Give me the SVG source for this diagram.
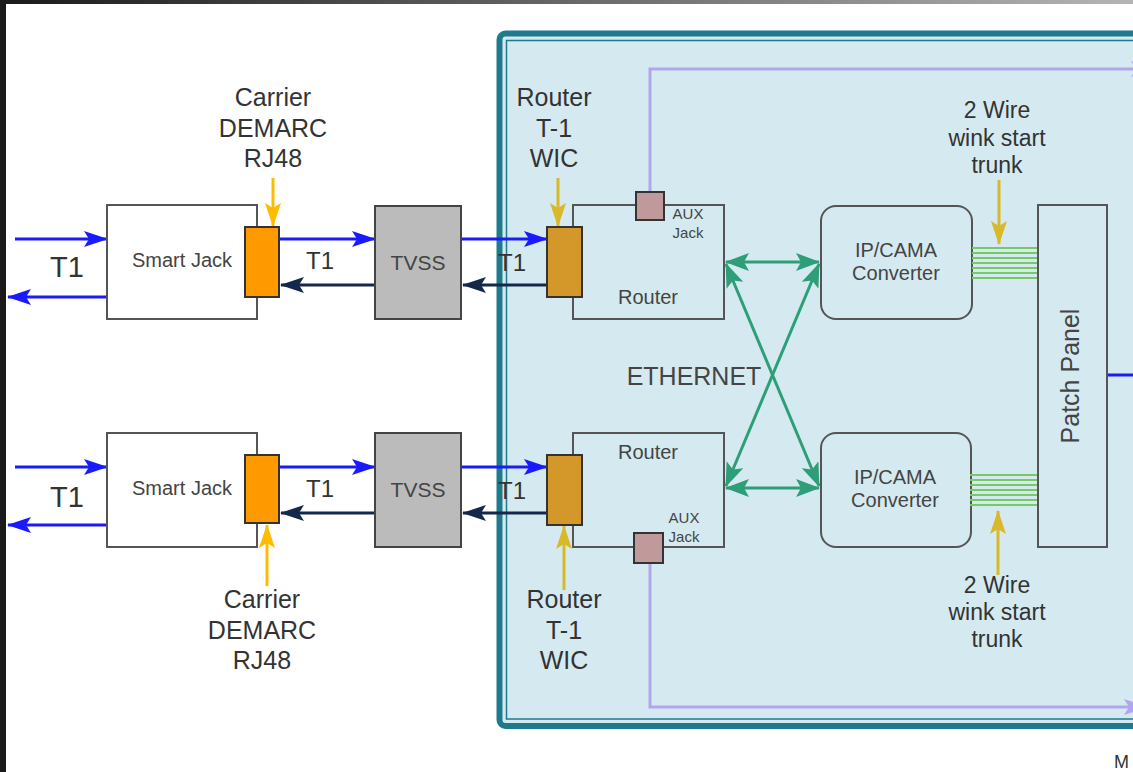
<svg xmlns="http://www.w3.org/2000/svg" width="1133" height="772" viewBox="0 0 1133 772">
<defs>
<linearGradient id="topbar" x1="0" y1="0" x2="1" y2="0">
<stop offset="0" stop-color="#1a1a1a"/><stop offset="1" stop-color="#b5b5b5"/>
</linearGradient>
<marker id="aBlue" viewBox="0 0 24 16" refX="23" refY="8" markerWidth="24" markerHeight="16" markerUnits="userSpaceOnUse" orient="auto"><path d="M0,0 L24,8 L0,16 L5,8 Z" fill="#1a1aff"/></marker>
<marker id="aNavy" viewBox="0 0 24 16" refX="23" refY="8" markerWidth="24" markerHeight="16" markerUnits="userSpaceOnUse" orient="auto"><path d="M0,0 L24,8 L0,16 L5,8 Z" fill="#14294a"/></marker>
<marker id="aGreen" viewBox="0 0 24 18" refX="23" refY="9" markerWidth="24" markerHeight="18" markerUnits="userSpaceOnUse" orient="auto-start-reverse"><path d="M0,0 L24,9 L0,18 L5,9 Z" fill="#2e9e78"/></marker>
<marker id="aYel" viewBox="0 0 24 16" refX="23" refY="8" markerWidth="24" markerHeight="16" markerUnits="userSpaceOnUse" orient="auto"><path d="M0,0 L24,8 L0,16 L5,8 Z" fill="#ffbb00"/></marker>
<marker id="aGold" viewBox="0 0 24 16" refX="23" refY="8" markerWidth="24" markerHeight="16" markerUnits="userSpaceOnUse" orient="auto"><path d="M0,0 L24,8 L0,16 L5,8 Z" fill="#d9b82a"/></marker>
<marker id="aPurp" viewBox="0 0 24 16" refX="23" refY="8" markerWidth="24" markerHeight="16" markerUnits="userSpaceOnUse" orient="auto"><path d="M0,0 L24,8 L0,16 L5,8 Z" fill="#b3a4f0"/></marker>
</defs>
<style>
text{font-family:"Liberation Sans",Arial,sans-serif;fill:#333;}
.lbl{font-size:25px;text-anchor:middle;}
.tw{font-size:23px;text-anchor:middle;}
.nt{font-size:20px;text-anchor:middle;fill:#444;}
.sm{font-size:15px;text-anchor:middle;fill:#444;}
.box{stroke:#555;stroke-width:2;}
.blue{stroke:#1a1aff;stroke-width:3;fill:none;marker-end:url(#aBlue);}
.navy{stroke:#14294a;stroke-width:3;fill:none;marker-end:url(#aNavy);}
.grn{stroke:#2e9e78;stroke-width:3;fill:none;marker-end:url(#aGreen);marker-start:url(#aGreen);}
.yel{stroke:#ffbb00;stroke-width:3;fill:none;marker-end:url(#aYel);}
.gold{stroke:#d9b82a;stroke-width:3;fill:none;marker-end:url(#aGold);}
.purp{stroke:#b3a4f0;stroke-width:3;fill:none;marker-end:url(#aPurp);}
.wire{stroke:#77c966;stroke-width:2;}
</style>
<rect x="0" y="0" width="1133" height="772" fill="#ffffff"/>
<rect x="0" y="0" width="1133" height="4" fill="url(#topbar)"/>
<rect x="0" y="0" width="6" height="772" fill="#1a1a1a"/>

<g id="enclosure">
<rect x="499.5" y="33.5" width="660" height="692.5" rx="6" fill="#d4eaf0" stroke="#1f7a8c" stroke-width="6"/>
<rect x="506.5" y="40.5" width="650" height="678.5" fill="none" stroke="#1f7a8c" stroke-width="1.5"/>
</g>

<g id="connectors">
<path class="purp" d="M650,197 V69 H1154"/>
<path class="purp" d="M650,557 V707 H1147"/>
<line x1="1107" y1="375" x2="1133" y2="375" stroke="#1a1aff" stroke-width="3"/>
<line class="blue" x1="15" y1="239" x2="107" y2="239"/>
<line class="blue" x1="107" y1="297" x2="8" y2="297"/>
<line class="blue" x1="279" y1="239" x2="375" y2="239"/>
<line class="navy" x1="375" y1="285" x2="281" y2="285"/>
<line class="blue" x1="461" y1="239" x2="547" y2="239"/>
<line class="navy" x1="547" y1="285" x2="463" y2="285"/>
<line class="blue" x1="15" y1="467" x2="107" y2="467"/>
<line class="blue" x1="107" y1="525" x2="8" y2="525"/>
<line class="blue" x1="279" y1="467" x2="375" y2="467"/>
<line class="navy" x1="375" y1="513" x2="281" y2="513"/>
<line class="blue" x1="461" y1="467" x2="547" y2="467"/>
<line class="navy" x1="547" y1="513" x2="463" y2="513"/>
<line class="yel" x1="273" y1="178" x2="273" y2="226"/>
<line class="yel" x1="267" y1="586" x2="267" y2="525"/>
<line class="gold" x1="558" y1="178" x2="558" y2="226"/>
<line class="gold" x1="564" y1="590" x2="564" y2="526"/>
<line class="gold" x1="999" y1="180" x2="999" y2="244"/>
<line class="gold" x1="998" y1="575" x2="998" y2="511"/>
<line class="grn" x1="726" y1="262" x2="819" y2="262"/>
<line class="grn" x1="726" y1="488" x2="819" y2="488"/>
<line class="grn" x1="726" y1="264" x2="819" y2="486"/>
<line class="grn" x1="819" y1="264" x2="726" y2="486"/>
</g>

<g id="smartjack1"><rect class="box" x="107" y="205" width="150" height="114" fill="#ffffff"/><text class="nt" x="182" y="267">Smart Jack</text></g>
<g id="demarc1"><rect x="245" y="227" width="34" height="70" fill="#ff9900" stroke="#333" stroke-width="2"/></g>
<g id="tvss1"><rect x="375" y="206" width="86" height="113" fill="#bbbbbb" stroke="#444" stroke-width="2"/><text class="nt" x="418" y="270" style="font-size:21px">TVSS</text></g>
<g id="router1"><rect class="box" x="573" y="205" width="151" height="114" fill="#d4eaf0"/><text class="nt" x="648" y="304">Router</text></g>
<g id="wic1"><rect x="547" y="227" width="35" height="70" fill="#d4982a" stroke="#333" stroke-width="2"/></g>
<g id="aux1"><rect x="636" y="192" width="28" height="28" fill="#c09a9a" stroke="#333" stroke-width="2"/><text class="sm" x="688" y="219">AUX</text><text class="sm" x="688" y="238">Jack</text></g>
<g id="cama1"><rect class="box" x="821" y="206" width="151" height="113" rx="15" fill="#d4eaf0"/><text class="nt" x="896" y="257">IP/CAMA</text><text class="nt" x="896" y="280">Converter</text></g>
<g id="wires1"><line class="wire" x1="972" y1="248" x2="1038" y2="248"/><line class="wire" x1="972" y1="253" x2="1038" y2="253"/><line class="wire" x1="972" y1="258" x2="1038" y2="258"/><line class="wire" x1="972" y1="263" x2="1038" y2="263"/><line class="wire" x1="972" y1="268" x2="1038" y2="268"/><line class="wire" x1="972" y1="273" x2="1038" y2="273"/><line class="wire" x1="972" y1="278" x2="1038" y2="278"/></g>

<g id="smartjack2"><rect class="box" x="107" y="433" width="150" height="114" fill="#ffffff"/><text class="nt" x="182" y="495">Smart Jack</text></g>
<g id="demarc2"><rect x="245" y="455" width="34" height="68" fill="#ff9900" stroke="#333" stroke-width="2"/></g>
<g id="tvss2"><rect x="375" y="433" width="86" height="114" fill="#bbbbbb" stroke="#444" stroke-width="2"/><text class="nt" x="418" y="497" style="font-size:21px">TVSS</text></g>
<g id="router2"><rect class="box" x="573" y="433" width="151" height="114" fill="#d4eaf0"/><text class="nt" x="648" y="459">Router</text></g>
<g id="wic2"><rect x="547" y="455" width="35" height="70" fill="#d4982a" stroke="#333" stroke-width="2"/></g>
<g id="aux2"><rect x="634" y="533" width="29" height="30" fill="#c09a9a" stroke="#333" stroke-width="2"/><text class="sm" x="684" y="523">AUX</text><text class="sm" x="684" y="542">Jack</text></g>
<g id="cama2"><rect class="box" x="821" y="433" width="150" height="114" rx="15" fill="#d4eaf0"/><text class="nt" x="895" y="484">IP/CAMA</text><text class="nt" x="895" y="507">Converter</text></g>
<g id="wires2"><line class="wire" x1="970" y1="475" x2="1038" y2="475"/><line class="wire" x1="970" y1="480" x2="1038" y2="480"/><line class="wire" x1="970" y1="485" x2="1038" y2="485"/><line class="wire" x1="970" y1="490" x2="1038" y2="490"/><line class="wire" x1="970" y1="495" x2="1038" y2="495"/><line class="wire" x1="970" y1="500" x2="1038" y2="500"/><line class="wire" x1="970" y1="505" x2="1038" y2="505"/></g>

<g id="patchpanel"><rect class="box" x="1038" y="205" width="69" height="342" fill="#d4eaf0"/><text class="lbl" transform="translate(1079 376) rotate(-90)" style="fill:#444">Patch Panel</text></g>

<g id="labels">
<text class="lbl" x="273" y="106">Carrier</text><text class="lbl" x="273" y="137">DEMARC</text><text class="lbl" x="273" y="167">RJ48</text>
<text class="lbl" x="554" y="106">Router</text><text class="lbl" x="554" y="137">T-1</text><text class="lbl" x="554" y="167">WIC</text>
<text class="tw" x="997" y="118">2 Wire</text><text class="tw" x="997" y="146">wink start</text><text class="tw" x="997" y="173">trunk</text>
<text class="lbl" x="262" y="608">Carrier</text><text class="lbl" x="262" y="639">DEMARC</text><text class="lbl" x="262" y="669">RJ48</text>
<text class="lbl" x="564" y="608">Router</text><text class="lbl" x="564" y="639">T-1</text><text class="lbl" x="564" y="669">WIC</text>
<text class="tw" x="997" y="593">2 Wire</text><text class="tw" x="997" y="620">wink start</text><text class="tw" x="997" y="647">trunk</text>
<text class="lbl" x="694" y="385" style="fill:#444">ETHERNET</text>
<text class="lbl" x="67" y="277" style="font-size:29px">T1</text>
<text class="lbl" x="67" y="507" style="font-size:29px">T1</text>
<text class="lbl" x="320" y="269" style="font-size:24px">T1</text><text class="lbl" x="512" y="271" style="font-size:24px">T1</text>
<text class="lbl" x="320" y="497" style="font-size:24px">T1</text><text class="lbl" x="512" y="499" style="font-size:24px">T1</text>
<text x="1114" y="768" style="font-size:18px">M</text>
</g>
</svg>
